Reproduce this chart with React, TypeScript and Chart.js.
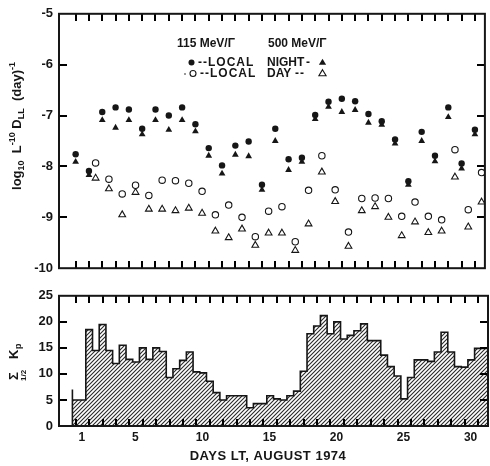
import React, { useEffect, useRef } from 'react';
import { Chart, registerables } from 'chart.js';

Chart.register(...registerables);

const INK = '#161616';
const FONT = '"Liberation Sans", "DejaVu Sans", Arial, sans-serif';

// ---- data ----
// local-night measurement days (Aug 1974)
const nightDays = [1, 2, 3, 4, 5, 6, 7, 8, 9, 10, 11, 12, 13, 14, 15, 16, 17, 18, 19, 20, 21, 22, 23, 24, 25, 26, 27, 28, 29, 30, 31];
const night115 = [-7.76, -8.09, -6.93, -6.84, -6.88, -7.26, -6.88, -7.0, -6.84, -7.17, -7.64, -7.98, -7.59, -7.51, -8.36, -7.26, -7.86, -7.83, -6.99, -6.73, -6.67, -6.72, -6.97, -7.11, -7.47, -8.29, -7.32, -7.79, -6.84, -7.94, -7.28];
const night500 = [-7.91, -8.17, -7.09, -7.24, -7.09, -7.37, -7.09, -7.28, -7.09, -7.31, -7.79, -8.14, -7.77, -7.8, -8.46, -7.5, -8.07, -7.91, -7.07, -6.83, -6.93, -6.89, -7.14, -7.18, -7.55, -8.36, -7.5, -7.9, -7.03, -8.04, -7.37];
// local-day measurement times
const dayTimes = [2.5, 3.5, 4.5, 5.5, 6.5, 7.5, 8.5, 9.5, 10.5, 11.5, 12.5, 13.5, 14.5, 15.5, 16.5, 17.5, 18.5, 19.5, 20.5, 21.5, 22.5, 23.5, 24.5, 25.5, 26.5, 27.5, 28.5, 29.5, 30.5, 31.5];
const day115 = [-7.93, -8.25, -8.54, -8.37, -8.57, -8.27, -8.28, -8.33, -8.49, -8.95, -8.76, -9.0, -9.38, -8.88, -8.79, -9.48, -8.47, -7.79, -8.46, -9.29, -8.63, -8.62, -8.63, -8.98, -8.7, -8.98, -9.05, -7.67, -8.85, -8.12];
const day500 = [-8.23, -8.44, -8.95, -8.51, -8.84, -8.84, -8.87, -8.82, -8.92, -9.27, -9.4, -9.23, -9.55, -9.31, -9.31, -9.65, -9.13, -8.11, -8.69, -9.57, -8.87, -8.79, -9.0, -9.36, -9.09, -9.3, -9.27, -8.21, -9.19, -8.7];
// half-day sums of Kp, starting at day 0.75
const kpHalfDay = [7, 5, 5, 18.5, 14.5, 19.5, 14.5, 12, 15.5, 12.8, 12.3, 15, 12.8, 15, 14.3, 9.3, 11, 12.6, 14.2, 10.4, 10.2, 8.6, 6.4, 5, 5.8, 5.8, 5.8,
  3.5, 4.3, 4.3, 5.8, 5.2, 5.0, 5.8, 6.7, 10.5, 17.7, 19.2, 21.2, 17.7, 20, 16.7, 17.4, 18.3, 19.6, 16.4, 16.4, 13.6, 11.4, 9.6, 5.2, 9.3, 12.7, 12.7, 12.4, 14.2, 18, 14.2, 11.4, 11.3, 12.7, 14.9];
const KP_START = 0.75;
const KP_BIN = 0.5;
const xTickDays = [1, 5, 10, 15, 20, 25, 30];
const topYTicks = [-10, -9, -8, -7, -6, -5];
const bottomYTicks = [0, 5, 10, 15, 20, 25];

const X_MIN = -0.25;
const X_MAX = 31.75;
const LABEL_SHIFT = 0.45;

const pts = (xs: number[], ys: number[]) => xs.map((x, i) => ({ x, y: ys[i] }));

function drawFrame(chart: any, yVals: number[]) {
  const ctx: CanvasRenderingContext2D = chart.ctx;
  const a = chart.chartArea;
  const xs = chart.scales.x;
  const ys = chart.scales.y;
  const left = Number(a.left);
  const right = Number(a.right);
  const topY = Number(a.top);
  const botY = Number(a.bottom);
  ctx.save();
  ctx.fillStyle = '#000000';
  for (let i = 0; i < nightDays.length; i++) {
    let px = Number(xs.getPixelForValue(nightDays[i]));
    if (!isFinite(px)) px = left + ((nightDays[i] - X_MIN) / (X_MAX - X_MIN)) * (right - left);
    px = Math.round(px);
    ctx.fillRect(px - 1, Math.round(topY), 2, 7);
    ctx.fillRect(px - 1, Math.round(botY) - 7, 2, 7);
  }
  const yMin = yVals[0];
  const yMax = yVals[yVals.length - 1];
  for (let i = 1; i < yVals.length - 1; i++) {
    let py = Number(ys.getPixelForValue(yVals[i]));
    if (!isFinite(py)) py = botY - ((yVals[i] - yMin) / (yMax - yMin)) * (botY - topY);
    py = Math.round(py);
    ctx.fillRect(Math.round(left), py - 1, 8, 2);
    ctx.fillRect(Math.round(right) - 8, py - 1, 8, 2);
  }
  ctx.strokeStyle = INK;
  ctx.lineWidth = 2;
  ctx.strokeRect(left, topY, right - left, botY - topY);
  ctx.restore();
}

type Seg = { t: string; size: number; dy: number };
function drawRich(ctx: CanvasRenderingContext2D, segs: Seg[], x: number, y: number) {
  let w = 0;
  for (const s of segs) {
    ctx.font = `bold ${s.size}px ${FONT}`;
    w += ctx.measureText(s.t).width;
  }
  let cx = x - w / 2;
  for (const s of segs) {
    ctx.font = `bold ${s.size}px ${FONT}`;
    ctx.fillText(s.t, cx, y + s.dy);
    cx += ctx.measureText(s.t).width;
  }
}

function drawTri(ctx: CanvasRenderingContext2D, x: number, y: number, r: number, fill: boolean) {
  ctx.beginPath();
  ctx.moveTo(x, y - r);
  ctx.lineTo(x + r * 0.95, y + r * 0.6);
  ctx.lineTo(x - r * 0.95, y + r * 0.6);
  ctx.closePath();
  if (fill) ctx.fill();
  else ctx.stroke();
}

const topAnnot = {
  id: 'topAnnot',
  afterDraw(chart: any) {
    drawFrame(chart, topYTicks);
    const ctx: CanvasRenderingContext2D = chart.ctx;
    ctx.save();
    ctx.fillStyle = INK;
    ctx.strokeStyle = INK;
    ctx.textBaseline = 'middle';
    ctx.textAlign = 'left';
    ctx.font = `bold 12px ${FONT}`;
    ctx.fillText('115 MeV/Γ', 177, 44);
    ctx.fillText('500 MeV/Γ', 268, 44);
    // row night
    ctx.beginPath();
    ctx.arc(191.5, 62.5, 3, 0, Math.PI * 2);
    ctx.fill();
    (ctx as any).letterSpacing = '1px';
    ctx.fillText('--LOCAL', 198, 63);
    (ctx as any).letterSpacing = '0px';
    ctx.fillText('NIGHT', 267, 63);
    ctx.fillText('-', 306, 63);
    drawTri(ctx, 322.5, 62.5, 3.8, true);
    // row day
    ctx.lineWidth = 1.1;
    ctx.beginPath();
    ctx.arc(185, 74, 0.8, 0, Math.PI * 2);
    ctx.fill();
    ctx.beginPath();
    ctx.arc(193, 73.5, 3, 0, Math.PI * 2);
    ctx.stroke();
    (ctx as any).letterSpacing = '1px';
    ctx.fillText('--LOCAL', 200, 74);
    (ctx as any).letterSpacing = '0px';
    ctx.fillText('DAY', 267, 74);
    (ctx as any).letterSpacing = '1px';
    ctx.fillText('--', 295, 74);
    (ctx as any).letterSpacing = '0px';
    drawTri(ctx, 322.5, 73.5, 3.8, false);
    // y title
    ctx.translate(21, 126);
    ctx.rotate(-Math.PI / 2);
    ctx.textBaseline = 'alphabetic';
    drawRich(ctx, [
      { t: 'log', size: 13, dy: 0 },
      { t: '10', size: 9, dy: 3 },
      { t: '  L', size: 13, dy: 0 },
      { t: '-10', size: 9, dy: -6 },
      { t: ' D', size: 13, dy: 0 },
      { t: 'LL', size: 9, dy: 3 },
      { t: '  (day)', size: 13, dy: 0 },
      { t: '-1', size: 9, dy: -6 },
    ], 0, 0);
    ctx.restore();
  },
};

const bottomAnnot = {
  id: 'bottomAnnot',
  afterDraw(chart: any) {
    drawFrame(chart, bottomYTicks);
    const ctx: CanvasRenderingContext2D = chart.ctx;
    ctx.save();
    ctx.fillStyle = INK;
    ctx.textBaseline = 'middle';
    ctx.textAlign = 'center';
    ctx.font = `bold 13px ${FONT}`;
    (ctx as any).letterSpacing = '0.5px';
    ctx.fillText('DAYS LT, AUGUST 1974', 268, 174);
    (ctx as any).letterSpacing = '0px';
    // y title: Σ Kp with 1/2
    ctx.translate(18, 98);
    ctx.rotate(-Math.PI / 2);
    ctx.textAlign = 'left';
    ctx.textBaseline = 'alphabetic';
    ctx.font = `bold 13px ${FONT}`;
    ctx.fillText('Σ', 0, 0);
    ctx.fillText('K', 21, 0);
    ctx.font = `bold 9px ${FONT}`;
    ctx.fillText('p', 31, 3);
    ctx.font = `bold 8px ${FONT}`;
    ctx.fillText('1/2', -1, 8);
    ctx.restore();
  },
};

const tickFont = { family: FONT, size: 13, weight: 'bold' as const };

export default function App() {
  const topRef = useRef<HTMLCanvasElement>(null);
  const botRef = useRef<HTMLCanvasElement>(null);

  useEffect(() => {
    const topCanvas = topRef.current!;
    const botCanvas = botRef.current!;

    const top = new Chart(topCanvas, {
      type: 'scatter',
      data: {
        datasets: [
          { label: '115 MeV night', data: pts(nightDays, night115), pointStyle: 'circle', pointRadius: 3.2, backgroundColor: INK, borderColor: INK, borderWidth: 0 },
          { label: '500 MeV night', data: pts(nightDays, night500), pointStyle: 'triangle', pointRadius: 3.9, backgroundColor: INK, borderColor: INK, borderWidth: 0 },
          { label: '115 MeV day', data: pts(dayTimes, day115), pointStyle: 'circle', pointRadius: 3.2, backgroundColor: '#ffffff', borderColor: INK, borderWidth: 1.1 },
          { label: '500 MeV day', data: pts(dayTimes, day500), pointStyle: 'triangle', pointRadius: 3.9, backgroundColor: '#ffffff', borderColor: INK, borderWidth: 1.1 },
        ],
      },
      options: {
        responsive: false,
        animation: false,
        devicePixelRatio: 1,
        layout: { padding: { top: 13, right: 2, bottom: 8, left: 0 } },
        plugins: { legend: { display: false }, tooltip: { enabled: false } },
        scales: {
          x: { type: 'linear', min: X_MIN, max: X_MAX, display: false },
          y: {
            type: 'linear',
            min: -10,
            max: -5,
            afterFit: (s: any) => { s.width = 59; },
            afterBuildTicks: (s: any) => { s.ticks = topYTicks.map((v) => ({ value: v })); },
            ticks: { color: INK, font: tickFont, padding: 6 },
            grid: { display: false, drawTicks: false },
            border: { display: false },
          },
        },
      },
      plugins: [topAnnot],
    } as any);

    const hatchTile = document.createElement('canvas');
    hatchTile.width = 4;
    hatchTile.height = 4;
    const g = hatchTile.getContext('2d')!;
    g.fillStyle = '#ffffff';
    g.fillRect(0, 0, 4, 4);
    g.strokeStyle = '#2a2a2a';
    g.lineWidth = 1.1;
    g.beginPath();
    g.moveTo(0, 4); g.lineTo(4, 0);
    g.moveTo(-1, 1); g.lineTo(1, -1);
    g.moveTo(3, 5); g.lineTo(5, 3);
    g.stroke();
    const hatch = botCanvas.getContext('2d')!.createPattern(hatchTile, 'repeat');

    const kpPoints: { x: number; y: number }[] = [{ x: KP_START, y: 0 }];
    kpHalfDay.forEach((v, i) => kpPoints.push({ x: KP_START + i * KP_BIN, y: v }));
    kpPoints.push({ x: KP_START + kpHalfDay.length * KP_BIN, y: kpHalfDay[kpHalfDay.length - 1] });

    const bot = new Chart(botCanvas, {
      type: 'line',
      data: {
        datasets: [
          {
            label: 'Σ Kp',
            data: kpPoints,
            stepped: 'after',
            borderColor: INK,
            borderWidth: 1.6,
            pointRadius: 0,
            fill: 'origin',
            backgroundColor: hatch,
          },
        ],
      },
      options: {
        responsive: false,
        animation: false,
        devicePixelRatio: 1,
        layout: { padding: { top: 11, right: 2, bottom: 0, left: 0 } },
        plugins: { legend: { display: false }, tooltip: { enabled: false } },
        scales: {
          x: {
            type: 'linear',
            min: X_MIN,
            max: X_MAX,
            afterFit: (s: any) => { s.height = 40; },
            afterBuildTicks: (s: any) => { s.ticks = xTickDays.map((d) => ({ value: d + LABEL_SHIFT })); },
            ticks: {
              color: INK,
              font: { family: FONT, size: 12, weight: 'bold' },
              padding: 4,
              autoSkip: false,
              maxRotation: 0,
              callback: (v: any) => String(Math.floor(Number(v))),
            },
            grid: { display: false, drawTicks: false },
            border: { display: false },
          },
          y: {
            type: 'linear',
            min: 0,
            max: 25,
            afterFit: (s: any) => { s.width = 59; },
            afterBuildTicks: (s: any) => { s.ticks = bottomYTicks.map((v) => ({ value: v })); },
            ticks: { color: INK, font: tickFont, padding: 6 },
            grid: { display: false, drawTicks: false },
            border: { display: false },
          },
        },
      },
      plugins: [bottomAnnot],
    } as any);

    return () => {
      top.destroy();
      bot.destroy();
    };
  }, []);

  return (
    <div style={{ position: 'fixed', left: 0, top: 0, width: 490, height: 466, background: '#ffffff' }}>
      <canvas ref={topRef} width={490} height={282} style={{ position: 'absolute', left: 0, top: 0, width: 490, height: 282 }} />
      <canvas ref={botRef} width={490} height={184} style={{ position: 'absolute', left: 0, top: 282, width: 490, height: 184 }} />
    </div>
  );
}
